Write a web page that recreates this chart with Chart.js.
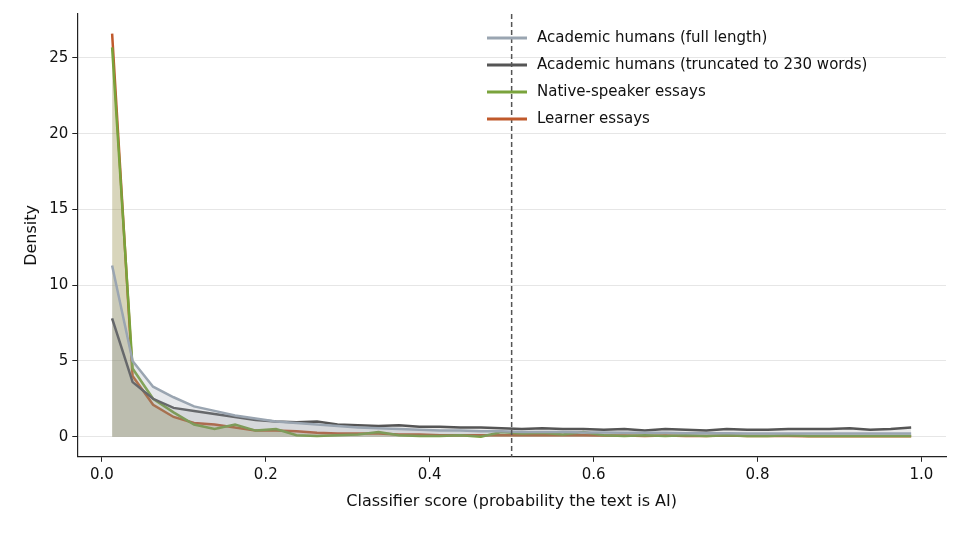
<!DOCTYPE html><html><head><script src="https://cdn.jsdelivr.net/npm/chart.js@4"></script>
<style>body{margin:0;background:#fff}#w{width:960px;height:533px}</style></head><body><div id="w"><canvas id="c"></canvas></div>
<script>
const centers = Array.from({length:40},(_,i)=>0.0125+0.025*i);
const xTicks = [0,0.2,0.4,0.6,0.8,1.0];
const yTicks = [0,5,10,15,20,25];
const fullLen = [11.3,5.0,3.3,2.6,2.0,1.7,1.4,1.2,1.0,0.9,0.8,0.7,0.6,0.55,0.5,0.45,0.4,0.4,0.35,0.35,0.3,0.3,0.3,0.28,0.28,0.25,0.25,0.25,0.22,0.22,0.22,0.2,0.2,0.2,0.2,0.2,0.2,0.2,0.2,0.2];
const truncated = [7.8,3.6,2.5,1.9,1.7,1.5,1.3,1.1,1.0,0.95,1.0,0.8,0.75,0.7,0.75,0.65,0.65,0.6,0.6,0.55,0.5,0.55,0.5,0.5,0.45,0.5,0.4,0.5,0.45,0.4,0.5,0.45,0.45,0.5,0.5,0.5,0.55,0.45,0.5,0.6];
const native = [25.7,4.5,2.5,1.6,0.8,0.5,0.8,0.4,0.5,0.1,0.05,0.1,0.15,0.3,0.1,0.05,0.05,0.1,0.0,0.3,0.2,0.25,0.15,0.3,0.1,0.05,0.1,0.05,0.1,0.05,0.1,0.05,0.05,0.1,0.05,0.05,0.05,0.05,0.05,0.05];
const learner = [26.6,4.0,2.1,1.3,0.9,0.8,0.6,0.4,0.4,0.35,0.25,0.2,0.2,0.2,0.15,0.15,0.1,0.1,0.1,0.1,0.1,0.1,0.1,0.1,0.08,0.08,0.05,0.08,0.05,0.05,0.08,0.05,0.05,0.05,0.03,0.03,0.03,0.03,0.03,0.03];
const mk=(label,data,color,fill)=>({label,data:data.map((y,i)=>({x:centers[i],y})),borderColor:color,backgroundColor:fill,fill:'origin',borderWidth:2.5,pointRadius:0,tension:0});
const vline={id:'vl',afterDatasetsDraw(ch){const {ctx,chartArea:a,scales:{x}}=ch;const px=x.getPixelForValue(0.5);ctx.save();ctx.strokeStyle='#555';ctx.lineWidth=1.5;ctx.setLineDash([5,3]);ctx.beginPath();ctx.moveTo(px,a.top);ctx.lineTo(px,a.bottom);ctx.stroke();ctx.restore();
 ctx.save();ctx.font='15px "DejaVu Sans"';ctx.textBaseline='middle';
 ch.data.datasets.forEach((d,i)=>{const y=38+i*27;ctx.strokeStyle=d.borderColor;ctx.lineWidth=3;ctx.beginPath();ctx.moveTo(487,y);ctx.lineTo(527,y);ctx.stroke();ctx.fillStyle='#111';ctx.fillText(d.label,537,y);});
 ctx.restore();}};
new Chart(document.getElementById('c'),{type:'line',data:{datasets:[
 mk('Academic humans (full length)',fullLen,'#9aa5b1','rgba(154,165,177,0.25)'),
 mk('Academic humans (truncated to 230 words)',truncated,'#555555','rgba(85,85,85,0.12)'),
 mk('Native-speaker essays',native,'#7aa33c','rgba(122,163,60,0.12)'),
 mk('Learner essays',learner,'#c0592b','rgba(170,140,90,0.3)')]},
options:{responsive:true,maintainAspectRatio:false,animation:false,
layout:{padding:{left:18,right:14,top:14,bottom:18}},
plugins:{legend:{display:false},tooltip:{enabled:false}},
scales:{x:{type:'linear',min:-0.03,max:1.03,afterBuildTicks(s){s.ticks=xTicks.map(v=>({value:v}));},ticks:{callback:v=>v.toFixed(1),font:{family:'DejaVu Sans',size:15},color:'#111',padding:4},grid:{color:'rgba(0,0,0,0)',drawTicks:true,tickColor:'#222',tickLength:5},border:{color:'#222',width:1.2},title:{display:true,text:'Classifier score (probability the text is AI)',font:{family:'DejaVu Sans',size:16},color:'#111'}},
y:{min:-1.33,max:27.9,afterBuildTicks(s){s.ticks=yTicks.map(v=>({value:v}));},ticks:{font:{family:'DejaVu Sans',size:15},color:'#111',padding:4},grid:{color:'#e6e6e6',drawTicks:true,tickColor:'#222',tickLength:5},border:{color:'#222',width:1.2},title:{display:true,text:'Density',font:{family:'DejaVu Sans',size:16},color:'#111'}}}},
plugins:[vline]});
</script></body></html>
